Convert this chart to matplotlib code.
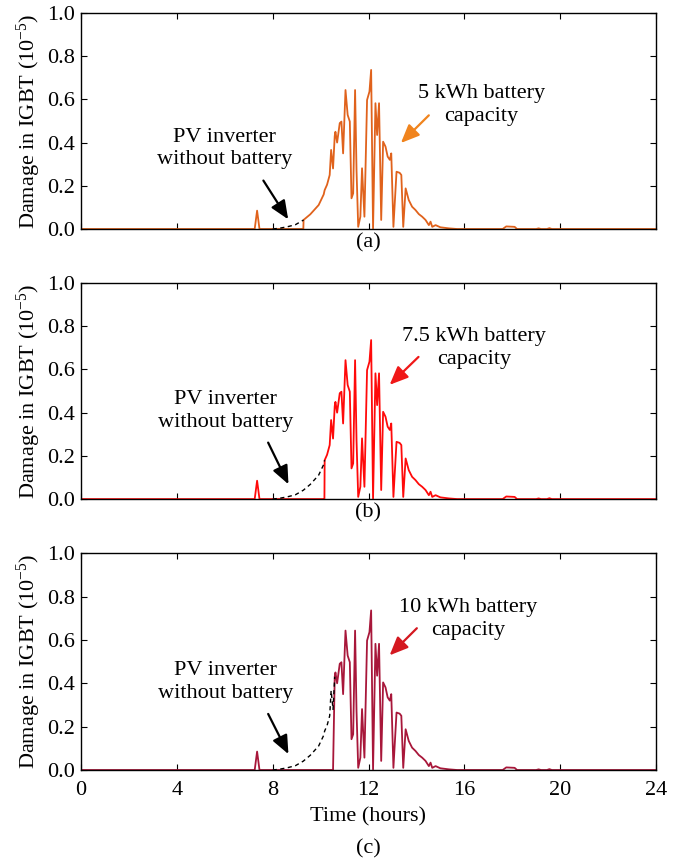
import matplotlib

matplotlib.use("Agg")
import matplotlib.pyplot as plt
import numpy as np

matplotlib.rcParams.update({
    "font.family": ["Liberation Serif", "DejaVu Serif"],
    "font.size": 16,
    "mathtext.fontset": "custom",
    "mathtext.rm": "Liberation Serif",
    "mathtext.it": "Liberation Serif:italic",
    "axes.linewidth": 1.0,
    "xtick.direction": "in",
    "ytick.direction": "in",
    "xtick.top": True,
    "ytick.right": True,
    "xtick.major.size": 4,
    "ytick.major.size": 4,
    "xtick.major.pad": 8,
    "ytick.major.pad": 4,
})

# damage of the PV inverter IGBT without battery (10^-5)
hours = [0.0, 7.25, 7.35, 7.45, 8.0, 8.3, 8.6, 8.95, 9.28, 9.29, 9.57, 9.92,
         10.13, 10.16, 10.17, 10.27, 10.38, 10.44, 10.52, 10.59, 10.62, 10.69,
         10.8, 10.87, 10.94, 11.04, 11.13, 11.22, 11.29, 11.36, 11.44, 11.5,
         11.57, 11.66, 11.73, 11.83, 11.94, 12.04, 12.11, 12.19, 12.29, 12.36,
         12.44, 12.53, 12.61, 12.71, 12.8, 12.89, 12.95, 13.04, 13.17, 13.3,
         13.37, 13.45, 13.55, 13.68, 13.82, 13.96, 14.1, 14.24, 14.38, 14.52,
         14.59, 14.66, 14.8, 15.0, 15.36, 15.7, 17.6, 17.75, 18.1, 18.2, 19.0,
         19.1, 19.2, 19.45, 19.55, 19.65, 24.0]
damage_nobatt = [0.0, 0.0, 0.085, 0.0, 0.0, 0.004, 0.01, 0.02, 0.041, 0.042,
                 0.068, 0.111, 0.16, 0.175, 0.18, 0.205, 0.25, 0.366, 0.28,
                 0.43, 0.45, 0.40, 0.49, 0.497, 0.35, 0.643, 0.528, 0.497,
                 0.142, 0.165, 0.643, 0.273, 0.01, 0.057, 0.281, 0.057, 0.597,
                 0.636, 0.736, 0.003, 0.582, 0.435, 0.582, 0.042, 0.404, 0.381,
                 0.335, 0.32, 0.35, 0.01, 0.265, 0.26, 0.25, 0.01, 0.188, 0.134,
                 0.103, 0.088, 0.069, 0.057, 0.042, 0.018, 0.034, 0.01, 0.018,
                 0.008, 0.003, 0.0, 0.0, 0.012, 0.01, 0.0, 0.0, 0.003, 0.0,
                 0.0, 0.004, 0.0, 0.0]

# hour at which each battery is full and the inverter damage starts again
battery_full = [9.29, 10.17, 10.59]
battery_labels = ["5 kWh battery\ncapacity", "7.5 kWh battery\ncapacity",
                  "10 kWh battery\ncapacity"]
panel_tags = ["(a)", "(b)", "(c)"]

LINE_COLORS = ["#e0621c", "#ff0a0a", "#a8173a"]
ARROW_COLORS = ["#f0841e", "#f01818", "#d41820"]
# (text xy, arrow tail, arrow head) in data coords
BATT_TEXT = [(16.72, 0.574), (16.41, 0.70), (16.16, 0.697)]
BATT_ARROW = [((14.6, 0.535), (13.27, 0.389)),
              ((14.17, 0.667), (12.8, 0.52)),
              ((14.1, 0.663), (12.8, 0.52))]
PV_TEXT = [(6.0, 0.373), (6.02, 0.407), (6.02, 0.407)]
PV_ARROW = [((7.55, 0.235), (8.71, 0.034)),
            ((7.76, 0.273), (8.71, 0.057)),
            ((7.76, 0.27), (8.71, 0.062))]


def main():
    fig = plt.figure(figsize=(6.92, 8.59), dpi=100)
    boxes = [(0.985, 0.7334), (0.6705, 0.419), (0.356, 0.1036)]
    left, right = 81 / 692, 656 / 692

    h = np.array(hours)
    d = np.array(damage_nobatt)

    for i, (top, bot) in enumerate(boxes):
        ax = fig.add_axes([left, bot, right - left, top - bot])
        # battery case: zero until the battery is full (early spike kept)
        d_batt = np.where((h < battery_full[i]) & (h > 7.6), 0.0, d)
        ax.plot(h, d_batt, color=LINE_COLORS[i], lw=1.3, zorder=2)
        pre = (h >= 7.9) & (h <= battery_full[i])
        ax.plot(h[pre], d[pre], color="black", lw=1.0, ls=(0, (3, 2.5)),
                zorder=3)

        ax.set_xlim(0, 24)
        ax.set_ylim(0, 1.0)
        ax.set_xticks(np.arange(0, 25, 4))
        ax.set_yticks(np.arange(0, 1.01, 0.2))
        ax.yaxis.set_major_formatter(matplotlib.ticker.FormatStrFormatter("%.1f"))
        ax.set_ylabel("Damage in IGBT (10$^{-5}$)", labelpad=3)
        if i < 2:
            ax.set_xticklabels([])
        else:
            ax.set_xlabel("Time (hours)", labelpad=5)

        tx, ty = BATT_TEXT[i]
        ax.text(tx, ty, battery_labels[i], ha="center", va="center",
                linespacing=1.25)
        tail, head = BATT_ARROW[i]
        ax.annotate("", xy=head, xytext=tail,
                    arrowprops=dict(arrowstyle="-|>,head_length=0.7,head_width=0.3",
                                    color=ARROW_COLORS[i], lw=1.6))
        px, py = PV_TEXT[i]
        ax.text(px, py, "PV inverter\nwithout battery", ha="center",
                va="center", linespacing=1.25)
        tail, head = PV_ARROW[i]
        ax.annotate("", xy=head, xytext=tail,
                    arrowprops=dict(arrowstyle="-|>,head_length=0.7,head_width=0.3",
                                    color="black", lw=1.6))

    cap_y = [1 - 243 / 859, 1 - 513 / 859, 1 - 849 / 859]
    for tag, y in zip(panel_tags, cap_y):
        fig.text((left + right) / 2, y, tag, ha="center", va="center")

    fig.savefig("out.png", dpi=100)
    plt.close(fig)


if __name__ == "__main__":
    main()
